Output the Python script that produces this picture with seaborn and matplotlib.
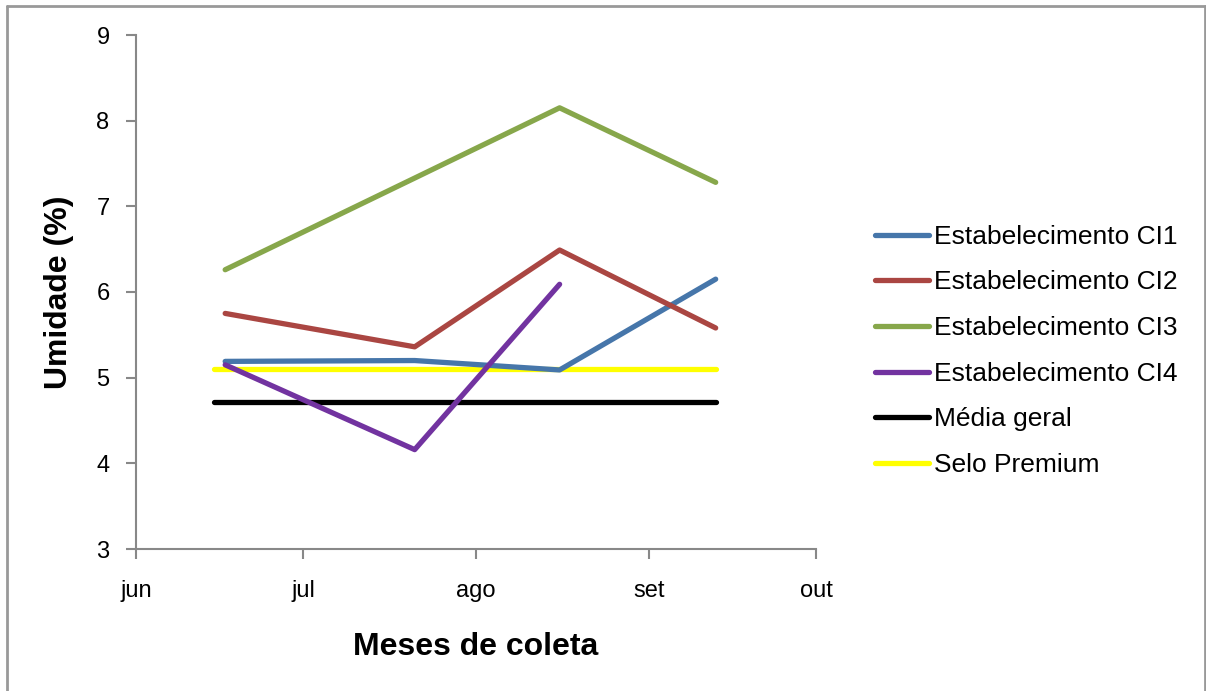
import pandas as pd
import numpy as np
import matplotlib
matplotlib.use('Agg')
import matplotlib.pyplot as plt
from matplotlib.lines import Line2D
import seaborn as sns

# Collection dates and moisture values (%)
datas_coleta = ['2012-06-17', '2012-07-21', '2012-08-16', '2012-09-13']
ci1 = [5.19, 5.20, 5.09, 6.15]
ci2 = [5.75, 5.36, 6.49, 5.58]
ci3 = [6.26, 7.33, 8.15, 7.28]
ci4 = [5.15, 4.16, 6.09, np.nan]

# Reference lines
datas_ref = ['2012-06-15', '2012-09-13']
media_geral = [4.72, 4.72]
selo_premium = [5.10, 5.10]

meses = ['jun', 'jul', 'ago', 'set', 'out']
meses_ticks = ['2012-06-01', '2012-07-01', '2012-08-01', '2012-09-01', '2012-10-01']

series = ['Estabelecimento CI1', 'Estabelecimento CI2', 'Estabelecimento CI3',
          'Estabelecimento CI4', 'Média geral', 'Selo Premium']
cores = ['#4676AA', '#AA4642', '#87A74B', '#7233A0', '#000000', '#FFFF00']

rows = []
for nome, vals in zip(series[:4], [ci1, ci2, ci3, ci4]):
    for d, v in zip(datas_coleta, vals):
        rows.append({'data': pd.Timestamp(d), 'umidade': v, 'serie': nome})
for nome, vals in zip(series[4:], [media_geral, selo_premium]):
    for d, v in zip(datas_ref, vals):
        rows.append({'data': pd.Timestamp(d), 'umidade': v, 'serie': nome})
df = pd.DataFrame(rows).dropna()

sns.set_style('white')
plt.rcParams['font.family'] = ['Liberation Sans', 'DejaVu Sans']
plt.rcParams['text.color'] = 'black'
plt.rcParams['axes.labelcolor'] = 'black'
plt.rcParams['xtick.color'] = 'black'
plt.rcParams['ytick.color'] = 'black'

fig = plt.figure(figsize=(12.06, 6.91), dpi=100)
ax = fig.add_axes([136 / 1206, 1 - 549 / 691, 680 / 1206, 514 / 691])

# draw reference lines first so data sit on top like the original
order = [4, 5, 0, 1, 2, 3]
for i in order:
    sub = df[df['serie'] == series[i]]
    sns.lineplot(data=sub, x='data', y='umidade', ax=ax, color=cores[i],
                 linewidth=3.8, solid_capstyle='round', legend=False)

ax.set_ylim(3, 9)
ax.set_yticks(range(3, 10))
ax.set_xlim(pd.Timestamp(meses_ticks[0]), pd.Timestamp(meses_ticks[-1]))
ax.set_xticks([pd.Timestamp(m) for m in meses_ticks])
ax.set_xticklabels(meses)

for s in ['top', 'right']:
    ax.spines[s].set_visible(False)
for s in ['left', 'bottom']:
    ax.spines[s].set_color('#888888')
    ax.spines[s].set_linewidth(1.5)
ax.tick_params(axis='both', direction='out', length=7, width=1.5, color='#888888',
               labelcolor='black', labelsize=17, left=True, bottom=True)
ax.tick_params(axis='x', pad=15)
ax.tick_params(axis='y', pad=12)

ax.set_xlabel('Meses de coleta', fontsize=23, fontweight='bold', labelpad=22)
ax.set_ylabel('Umidade (%)', fontsize=23, fontweight='bold', labelpad=16)

handles = [Line2D([0], [0], color=c, linewidth=3.8, solid_capstyle='round') for c in cores]
fig.legend(handles, series, loc='upper left', bbox_to_anchor=(0.7055, 0.709),
           frameon=False, fontsize=19, handlelength=2.08, handletextpad=0.19,
           labelspacing=0.82)

# outer frame like the original picture border
for (x0, y0, x1, y1) in [(7, 6, 1205, 6), (7, 6, 7, 691), (1205, 6, 1205, 691)]:
    fig.add_artist(Line2D([x0 / 1206, x1 / 1206], [1 - y0 / 691, 1 - y1 / 691],
                          color='#999999', linewidth=2, transform=fig.transFigure))

fig.savefig('out.png', dpi=100)
